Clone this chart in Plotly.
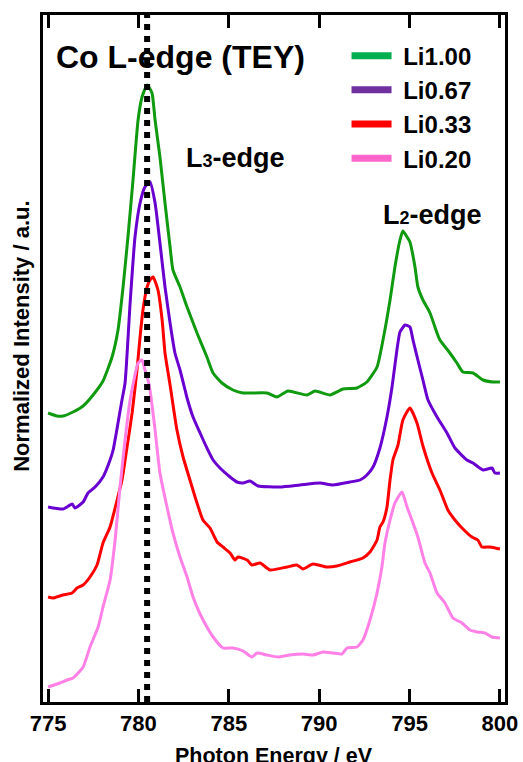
import plotly.graph_objects as go

# ---------------- data ----------------
energy_li100 = [775.00, 775.50, 775.83, 776.38, 776.94, 777.49, 778.04, 778.54, 778.87, 779.15,
                779.42, 779.70, 779.98, 780.20, 780.48, 780.75, 780.92, 781.19, 781.47, 781.75,
                781.91, 782.30, 782.69, 783.24, 783.79, 784.13, 784.62, 785.23, 785.79, 787.11,
                787.67, 788.27, 789.33, 789.77, 790.60, 791.32, 792.09, 792.64, 793.20, 793.53,
                793.92, 794.19, 794.47, 794.63, 794.86, 795.02, 795.30, 795.46, 795.74, 796.13,
                796.52, 796.68, 797.23, 797.62, 797.95, 798.51, 799.06, 799.61, 800.00]
intensity_li100 = [2.89, 2.86, 2.86, 2.90, 2.96, 3.07, 3.21, 3.45, 3.72, 4.15,
                   4.65, 5.22, 5.82, 6.05, 6.17, 6.09, 5.82, 5.45, 4.99, 4.55,
                   4.32, 4.15, 3.95, 3.69, 3.45, 3.29, 3.19, 3.12, 3.09, 3.09,
                   3.05, 3.11, 3.07, 3.11, 3.07, 3.13, 3.14, 3.20, 3.35, 3.62,
                   4.02, 4.35, 4.62, 4.71, 4.65, 4.60, 4.35, 4.15, 4.02, 3.89,
                   3.69, 3.62, 3.49, 3.39, 3.30, 3.29, 3.22, 3.20, 3.20]

energy_li067 = [775.00, 775.83, 776.33, 776.49, 776.94, 777.21, 777.60, 778.04, 778.43, 778.60,
                778.87, 779.09, 779.26, 779.54, 779.81, 780.09, 780.36, 780.64, 780.92, 781.19,
                781.47, 781.75, 782.02, 782.30, 782.58, 782.69, 783.02, 783.41, 783.79, 784.13,
                784.51, 785.07, 785.45, 785.79, 786.17, 786.62, 787.83, 788.94, 790.04, 790.76,
                791.70, 792.26, 792.64, 792.98, 793.36, 793.75, 794.03, 794.30, 794.47, 794.75,
                795.02, 795.19, 795.46, 795.74, 796.02, 796.52, 797.07, 797.51, 798.17, 798.51,
                799.06, 799.56, 799.72, 800.00]
intensity_li067 = [1.95, 1.93, 1.98, 1.94, 2.00, 2.09, 2.15, 2.25, 2.42, 2.52,
                   2.79, 3.02, 3.19, 3.99, 4.65, 4.99, 5.15, 5.20, 4.99, 4.59,
                   4.15, 3.79, 3.49, 3.32, 3.12, 3.04, 2.85, 2.69, 2.54, 2.42,
                   2.34, 2.25, 2.20, 2.19, 2.21, 2.16, 2.15, 2.17, 2.19, 2.17,
                   2.20, 2.22, 2.27, 2.35, 2.54, 2.85, 3.15, 3.52, 3.70, 3.77,
                   3.75, 3.62, 3.42, 3.22, 3.02, 2.85, 2.69, 2.54, 2.42, 2.39,
                   2.32, 2.34, 2.29, 2.29]

energy_li033 = [775.00, 775.28, 775.83, 776.33, 776.60, 776.94, 777.32, 777.71, 778.04, 778.43,
                778.82, 779.09, 779.37, 779.65, 779.92, 780.09, 780.25, 780.48, 780.64, 780.81,
                781.08, 781.31, 781.47, 781.75, 782.13, 782.47, 782.85, 783.24, 783.57, 783.96,
                784.35, 784.68, 785.07, 785.34, 785.51, 786.01, 786.28, 786.73, 787.28, 788.22,
                788.77, 789.10, 789.66, 790.43, 790.98, 791.70, 792.42, 792.81, 793.20, 793.36,
                793.53, 793.75, 793.92, 794.08, 794.36, 794.63, 795.02, 795.41, 795.74, 796.24,
                796.68, 797.12, 797.51, 797.90, 798.45, 798.78, 799.00, 799.45, 800.00]
intensity_li033 = [1.05, 1.04, 1.07, 1.09, 1.14, 1.17, 1.25, 1.37, 1.59, 1.75,
                   2.02, 2.22, 2.55, 2.89, 3.32, 3.65, 3.92, 4.15, 4.22, 4.25,
                   4.12, 3.82, 3.49, 3.17, 2.72, 2.45, 2.22, 1.99, 1.82, 1.74,
                   1.60, 1.55, 1.49, 1.42, 1.45, 1.42, 1.37, 1.39, 1.32, 1.35,
                   1.37, 1.33, 1.38, 1.35, 1.36, 1.40, 1.44, 1.50, 1.62, 1.75,
                   1.80, 1.95, 2.22, 2.42, 2.57, 2.82, 2.94, 2.79, 2.56, 2.29,
                   2.12, 1.92, 1.82, 1.74, 1.65, 1.62, 1.55, 1.55, 1.53]

energy_li020 = [775.00, 775.66, 776.05, 776.38, 776.94, 777.32, 777.77, 778.04, 778.43, 778.71,
                778.98, 779.26, 779.54, 779.81, 779.98, 780.20, 780.36, 780.53, 780.64, 780.92,
                781.19, 781.58, 781.91, 782.30, 782.69, 783.02, 783.41, 783.79, 784.13, 784.68,
                785.23, 785.79, 786.28, 786.56, 787.11, 787.72, 788.38, 789.10, 789.66, 790.21,
                790.76, 791.26, 791.54, 792.09, 792.42, 792.81, 793.20, 793.47, 793.64, 793.92,
                794.19, 794.58, 794.86, 795.13, 795.46, 795.85, 796.13, 796.52, 796.96, 797.40,
                797.90, 798.34, 798.73, 799.17, 799.56, 800.00]
intensity_li020 = [0.15, 0.19, 0.22, 0.24, 0.35, 0.55, 0.75, 0.95, 1.22, 1.62,
                   2.15, 2.62, 3.02, 3.27, 3.39, 3.42, 3.32, 3.22, 3.12, 2.72,
                   2.29, 1.95, 1.69, 1.45, 1.25, 1.05, 0.88, 0.75, 0.65, 0.54,
                   0.54, 0.51, 0.45, 0.49, 0.47, 0.45, 0.47, 0.48, 0.47, 0.50,
                   0.49, 0.48, 0.54, 0.55, 0.62, 0.82, 1.09, 1.35, 1.59, 1.82,
                   1.99, 2.10, 1.95, 1.82, 1.65, 1.39, 1.29, 1.09, 0.99, 0.84,
                   0.79, 0.72, 0.70, 0.69, 0.65, 0.64]

series_names = ["Li1.00", "Li0.67", "Li0.33", "Li0.20"]
series_energy = [energy_li100, energy_li067, energy_li033, energy_li020]
series_intensity = [intensity_li100, intensity_li067, intensity_li033, intensity_li020]

tick_values = [775, 780, 785, 790, 795, 800]
tick_labels = ["775", "780", "785", "790", "795", "800"]
l3_ref_energy = 780.48

# ---------------- styles ----------------
curve_colors = ["#109a10", "#6a00d0", "#ff0000", "#ff80e6"]
legend_colors = ["#00b050", "#7030a0", "#ff0000", "#ff66cc"]
FONT = "Arial, 'Liberation Sans', sans-serif"
NBSP = "\u00a0"

fig = go.Figure()

for name, xs, ys, col in zip(series_names, series_energy, series_intensity, curve_colors):
    fig.add_trace(go.Scatter(x=xs, y=ys, mode="lines", name=name,
                             line=dict(color=col, width=3, shape="spline", smoothing=0.5),
                             showlegend=False))

# legend entries (the reference legend uses slightly different swatch colours)
for name, col in zip(series_names, legend_colors):
    fig.add_trace(go.Scatter(x=[None], y=[None], mode="lines", name=NBSP + name,
                             line=dict(color=col, width=7), showlegend=True))

fig.add_shape(type="line", xref="x", yref="paper", x0=l3_ref_energy, x1=l3_ref_energy,
              y0=0, y1=1, line=dict(color="black", width=6, dash="dot"), layer="above")

fig.add_annotation(text="Co L-edge (TEY)", xref="paper", yref="paper", x=0.024, y=0.939,
                   xanchor="left", yanchor="middle", showarrow=False,
                   font=dict(family=FONT, size=32, color="black", weight="bold"))
fig.add_annotation(text='L<span style="font-size:18px">3</span>-edge', xref="paper", yref="paper",
                   x=0.305, y=0.792, xanchor="left", yanchor="middle", showarrow=False,
                   font=dict(family=FONT, size=27, color="black", weight="bold"))
fig.add_annotation(text='L<span style="font-size:18px">2</span>-edge', xref="paper", yref="paper",
                   x=0.731, y=0.709, xanchor="left", yanchor="middle", showarrow=False,
                   font=dict(family=FONT, size=27, color="black", weight="bold"))
fig.add_annotation(text="Normalized Intensity / a.u.", xref="paper", yref="paper",
                   x=-0.0455, y=0.533, xanchor="center", yanchor="middle", textangle=-90,
                   showarrow=False, font=dict(family=FONT, size=22, color="black", weight="bold"))
fig.add_annotation(text="Photon Energy / eV", xref="paper", yref="paper",
                   x=0.5, y=-0.078, xanchor="center", yanchor="middle",
                   showarrow=False, font=dict(family=FONT, size=21.5, color="black", weight="bold"))

fig.update_layout(
    width=523, height=762,
    margin=dict(l=43, r=18, t=15, b=60, autoexpand=False),
    paper_bgcolor="white", plot_bgcolor="white",
    font=dict(family=FONT, color="black"),
    legend=dict(x=0.657, y=0.973, xanchor="left", yanchor="top", itemwidth=40,
                bgcolor="rgba(0,0,0,0)", borderwidth=0, tracegroupgap=0,
                font=dict(family=FONT, size=24, color="black", weight="bold")),
    xaxis=dict(range=[774.72, 800.28], tickmode="array", tickvals=tick_values, ticktext=tick_labels,
               ticks="inside", ticklen=13, tickwidth=3, tickcolor="black",
               showline=True, linewidth=3, linecolor="black", mirror="ticks",
               showgrid=False, zeroline=False, automargin=False,
               tickfont=dict(family=FONT, size=22, color="black", weight="bold")),
    yaxis=dict(range=[0, 6.87], showticklabels=False, ticks="", automargin=False,
               showline=True, linewidth=3, linecolor="black", mirror=True,
               showgrid=False, zeroline=False),
)

fig.write_html("out.html", config={"displayModeBar": False},
               post_script="document.body.style.margin='0';")
